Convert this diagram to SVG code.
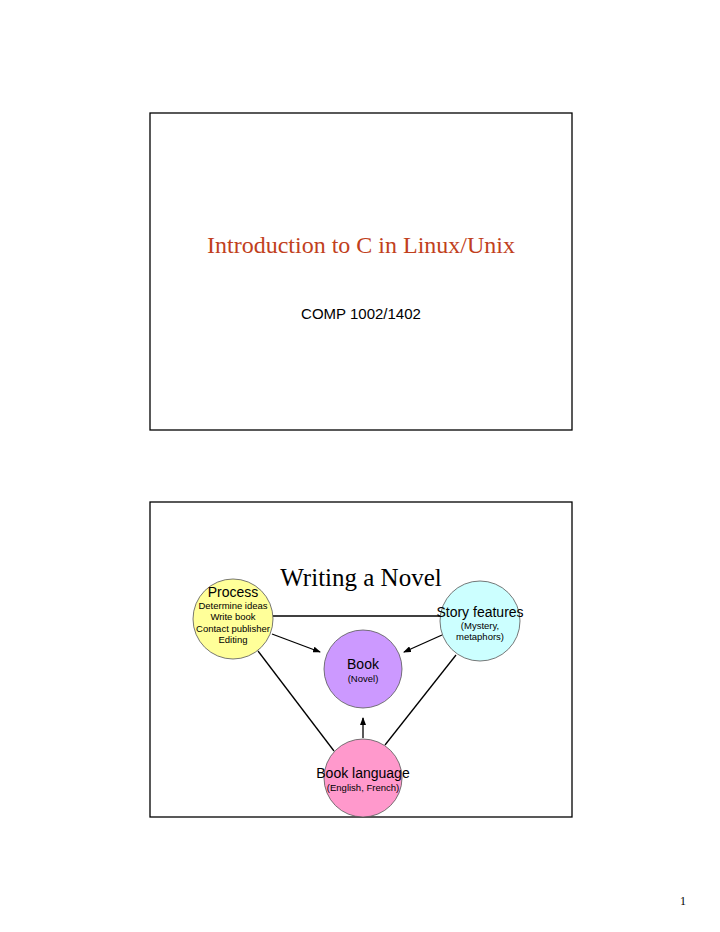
<svg xmlns="http://www.w3.org/2000/svg" width="720" height="932" viewBox="0 0 720 932">
<style>
.frame{fill:none;stroke:#000;stroke-width:1.3}
.c{stroke:#555;stroke-width:0.8}
.l{stroke:#000;stroke-width:1.3;fill:none}
.s{font-family:"Liberation Sans",Arial,sans-serif;text-anchor:middle;fill:#000}
</style>
<defs><marker id="a" markerWidth="8" markerHeight="6" refX="7" refY="3" orient="auto" markerUnits="userSpaceOnUse"><path d="M0,0L8,3L0,6z" fill="#000"/></marker></defs>
<rect width="720" height="932" fill="#fff"/>
<g id="slide1">
<rect class="frame" x="150" y="113" width="422" height="317"/>
<text x="361" y="253" font-family="Liberation Serif,serif" font-size="24" text-anchor="middle" fill="#c1401c">Introduction to C in Linux/Unix</text>
<text class="s" x="361" y="319" font-size="15">COMP 1002/1402</text>
</g>
<g id="slide2">
<rect class="frame" x="150" y="502" width="422" height="315"/>
<text x="361" y="586" font-family="Liberation Serif,serif" font-size="25" text-anchor="middle">Writing a Novel</text>
</g>
<g id="connectors">
<line class="l" x1="273" y1="616" x2="440" y2="616"/>
<line class="l" x1="258" y1="651" x2="334" y2="751"/>
<line class="l" x1="456" y1="655" x2="385" y2="745"/>
<line class="l" x1="272" y1="634" x2="320" y2="652" marker-end="url(#a)"/>
<line class="l" x1="442" y1="635" x2="404" y2="652" marker-end="url(#a)"/>
<line class="l" x1="363" y1="738" x2="363" y2="718" marker-end="url(#a)"/>
</g>
<g id="process">
<circle class="c" cx="233" cy="619" r="40" fill="#ffff99"/>
<text class="s" x="233" y="597" font-size="14">Process</text>
<text class="s" x="233" y="609" font-size="9.5">Determine ideas</text>
<text class="s" x="233" y="620" font-size="9.5">Write book</text>
<text class="s" x="233" y="632" font-size="9.5">Contact publisher</text>
<text class="s" x="233" y="643" font-size="9.5">Editing</text>
</g>
<g id="story">
<circle class="c" cx="480" cy="621" r="40" fill="#ccffff"/>
<text class="s" x="480" y="617" font-size="14">Story features</text>
<text class="s" x="480" y="629" font-size="9.5">(Mystery,</text>
<text class="s" x="480" y="640" font-size="9.5">metaphors)</text>
</g>
<g id="book">
<circle class="c" cx="363" cy="669" r="39" fill="#cc99ff"/>
<text class="s" x="363" y="669" font-size="14">Book</text>
<text class="s" x="363" y="682" font-size="9.5">(Novel)</text>
</g>
<g id="language">
<circle class="c" cx="363" cy="778" r="39" fill="#ff99cc"/>
<text class="s" x="363" y="778" font-size="14">Book language</text>
<text class="s" x="363" y="791" font-size="9.5">(English, French)</text>
</g>
<text x="683" y="905" font-family="Liberation Serif,serif" font-size="12" text-anchor="middle">1</text>
</svg>
